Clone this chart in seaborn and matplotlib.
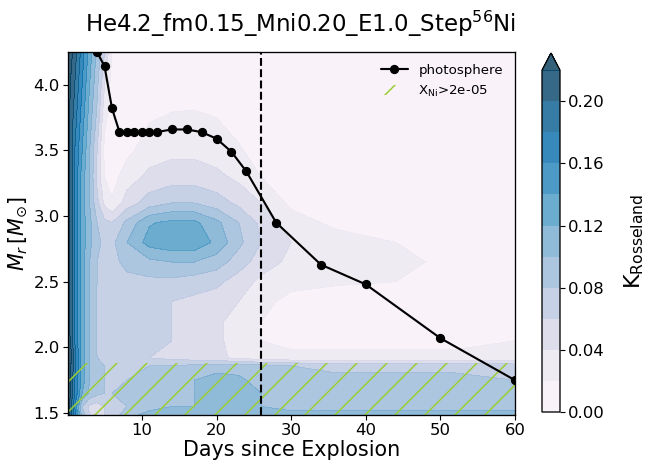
import numpy as np
import matplotlib
matplotlib.use("Agg")
import matplotlib.pyplot as plt
import matplotlib.patches as mpatches
import seaborn as sns

"""DATA"""
# time grid (days) and mass grid (Msun) of the opacity map
days = [0.1, 1, 2, 3, 4, 5, 6, 8, 11, 14, 17, 20, 23, 26, 30, 36, 44, 52, 60]
mass = [1.485, 1.55, 1.65, 1.75, 1.86, 1.92, 2.05, 2.2, 2.35, 2.5, 2.65, 2.8,
        2.95, 3.1, 3.3, 3.5, 3.75, 4.0, 4.25]

# Rosseland mean opacity, one row per mass shell (bottom -> top)
k_149 = [0.24, 0.17, 0.09, 0.06, 0.05, 0.06, 0.07, 0.09, 0.11, 0.12, 0.12, 0.12, 0.12, 0.12, 0.11, 0.11, 0.11, 0.11, 0.11]
k_155 = [0.24, 0.16, 0.08, 0.055, 0.05, 0.06, 0.07, 0.08, 0.09, 0.10, 0.10, 0.11, 0.11, 0.10, 0.09, 0.09, 0.09, 0.09, 0.09]
k_165 = [0.24, 0.18, 0.12, 0.095, 0.085, 0.08, 0.08, 0.085, 0.09, 0.09, 0.10, 0.11, 0.11, 0.10, 0.09, 0.085, 0.09, 0.09, 0.085]
k_175 = [0.24, 0.18, 0.13, 0.10, 0.085, 0.08, 0.08, 0.08, 0.085, 0.09, 0.10, 0.11, 0.105, 0.09, 0.085, 0.085, 0.085, 0.085, 0.08]
k_186 = [0.24, 0.19, 0.13, 0.10, 0.085, 0.08, 0.08, 0.08, 0.08, 0.08, 0.085, 0.09, 0.09, 0.085, 0.08, 0.075, 0.075, 0.075, 0.07]
k_192 = [0.26, 0.19, 0.13, 0.10, 0.08, 0.075, 0.07, 0.065, 0.06, 0.055, 0.05, 0.045, 0.035, 0.03, 0.025, 0.025, 0.025, 0.025, 0.025]
k_205 = [0.24, 0.18, 0.13, 0.10, 0.078, 0.072, 0.07, 0.07, 0.065, 0.06, 0.055, 0.045, 0.03, 0.02, 0.015, 0.015, 0.015, 0.015, 0.02]
k_220 = [0.23, 0.18, 0.13, 0.10, 0.078, 0.072, 0.07, 0.07, 0.065, 0.06, 0.055, 0.045, 0.03, 0.02, 0.015, 0.01, 0.01, 0.015, 0.02]
k_235 = [0.23, 0.18, 0.13, 0.10, 0.078, 0.072, 0.07, 0.07, 0.065, 0.06, 0.055, 0.05, 0.04, 0.025, 0.015, 0.012, 0.01, 0.01, 0.01]
k_250 = [0.23, 0.18, 0.13, 0.10, 0.08, 0.075, 0.07, 0.075, 0.075, 0.075, 0.07, 0.065, 0.05, 0.035, 0.025, 0.022, 0.02, 0.012, 0.01]
k_265 = [0.23, 0.18, 0.13, 0.10, 0.08, 0.075, 0.075, 0.085, 0.095, 0.10, 0.10, 0.09, 0.07, 0.05, 0.035, 0.03, 0.025, 0.015, 0.01]
k_280 = [0.23, 0.18, 0.13, 0.105, 0.085, 0.075, 0.075, 0.10, 0.128, 0.135, 0.135, 0.115, 0.085, 0.06, 0.04, 0.03, 0.02, 0.01, 0.01]
k_295 = [0.23, 0.18, 0.13, 0.105, 0.08, 0.065, 0.06, 0.085, 0.118, 0.125, 0.125, 0.105, 0.08, 0.055, 0.03, 0.015, 0.01, 0.01, 0.01]
k_310 = [0.23, 0.18, 0.13, 0.10, 0.065, 0.035, 0.022, 0.05, 0.07, 0.08, 0.08, 0.07, 0.055, 0.04, 0.015, 0.01, 0.01, 0.01, 0.01]
k_330 = [0.23, 0.18, 0.13, 0.10, 0.055, 0.02, 0.012, 0.03, 0.045, 0.05, 0.05, 0.045, 0.035, 0.02, 0.01, 0.01, 0.01, 0.01, 0.01]
k_350 = [0.23, 0.18, 0.14, 0.10, 0.06, 0.015, 0.01, 0.015, 0.03, 0.035, 0.035, 0.03, 0.022, 0.012, 0.01, 0.01, 0.01, 0.01, 0.01]
k_375 = [0.23, 0.19, 0.15, 0.11, 0.075, 0.025, 0.01, 0.01, 0.018, 0.022, 0.023, 0.02, 0.013, 0.01, 0.01, 0.01, 0.01, 0.01, 0.01]
k_400 = [0.23, 0.20, 0.16, 0.12, 0.085, 0.04, 0.012, 0.01, 0.01, 0.01, 0.01, 0.01, 0.01, 0.01, 0.01, 0.01, 0.01, 0.01, 0.01]
k_425 = [0.24, 0.21, 0.17, 0.13, 0.095, 0.06, 0.02, 0.01, 0.01, 0.01, 0.01, 0.01, 0.01, 0.01, 0.01, 0.01, 0.01, 0.01, 0.01]
kappa = np.array([k_149, k_155, k_165, k_175, k_186, k_192, k_205, k_220, k_235, k_250,
                  k_265, k_280, k_295, k_310, k_330, k_350, k_375, k_400, k_425])

# photosphere position
phot_days = [4, 5, 6, 7, 8, 9, 10, 11, 12, 14, 16, 18, 20, 22, 24, 28, 34, 40, 50, 60]
phot_mass = [4.25, 4.14, 3.82, 3.64, 3.64, 3.64, 3.64, 3.64, 3.64, 3.66, 3.66, 3.64,
             3.59, 3.49, 3.34, 2.95, 2.63, 2.48, 2.07, 1.75]

# nickel mass fraction (constant in time)
ni_days = [0.1, 60]
ni_mass = [1.485, 1.86, 1.88, 4.25]
ni_frac = [1e-3, 1e-3, 1e-7, 1e-8]
t_peak = 26.0

"""PLOTTING"""
DPI = 90
NI_COL = "yellowgreen"
sns.set_style("ticks")
plt.rcParams.update({
    "font.family": ["DejaVu Sans"],
    "text.color": "black",
    "axes.labelcolor": "black",
    "axes.edgecolor": "black",
    "xtick.color": "black",
    "ytick.color": "black",
    "hatch.color": NI_COL,
    "hatch.linewidth": 1.2,
    "axes.linewidth": 1.05,
    "xtick.major.width": 0.9,
    "ytick.major.width": 0.9,
    "xtick.major.size": 3.9,
    "ytick.major.size": 3.9,
})

fig = plt.figure(figsize=(651 / DPI, 469 / DPI), dpi=DPI)
ax = fig.add_axes([68 / 651, 1 - 415 / 469, (515 - 68) / 651, (415 - 52) / 469])
cax = fig.add_axes([542 / 651, 1 - 412 / 469, 18 / 651, (412 - 53) / 469])

cmap = sns.color_palette("PuBu", as_cmap=True)
levels = np.arange(0, 0.2201, 0.02)
cf = ax.contourf(days, mass, kappa, levels=levels, cmap=cmap, extend="max", alpha=0.8)

ni_grid = np.array([[v, v] for v in ni_frac])
cs_ni = ax.contourf(ni_days, ni_mass, ni_grid, levels=[2e-5, 1], colors="none", hatches=["/"])
if hasattr(cs_ni, "set_hatchcolor"):
    cs_ni.set_hatchcolor(NI_COL)
else:
    cs_ni.set_edgecolor(NI_COL)
    cs_ni.set_linewidth(0)

ax.plot(phot_days, phot_mass, "-o", color="black", lw=1.7, ms=6.4, label="photosphere")
ax.axvline(t_peak, color="black", ls="--", lw=1.7)

ax.set_xlim(days[0], 60)
ax.set_ylim(1.485, 4.25)
ax.tick_params(labelsize=13.2, pad=2.7)
ax.set_xlabel("Days since Explosion", fontsize=16.5, labelpad=1.8)
ax.set_ylabel(r"$M_r\,[M_{\odot}]$", fontsize=16.5, labelpad=3.6)
ax.set_title(r"He4.2_fm0.15_Mni0.20_E1.0_Step$^{56}$Ni", fontsize=18.3, x=0.52, pad=16)

ni_patch = mpatches.Patch(facecolor="none", edgecolor=NI_COL, lw=0, hatch="/",
                          label=r"X$_{\rm Ni}$>2e-05")
h, l = ax.get_legend_handles_labels()
ax.legend(handles=h + [ni_patch], loc="upper right", frameon=False, fontsize=10.7)

cb = fig.colorbar(cf, cax=cax, ticks=np.arange(0, 0.21, 0.04), format="%.2f")
cb.ax.tick_params(labelsize=13.2, pad=2.7)
cb.set_label(r"K$_{\rm Rosseland}$", fontsize=17.8, labelpad=14)

fig.savefig("out.png", dpi=DPI)
